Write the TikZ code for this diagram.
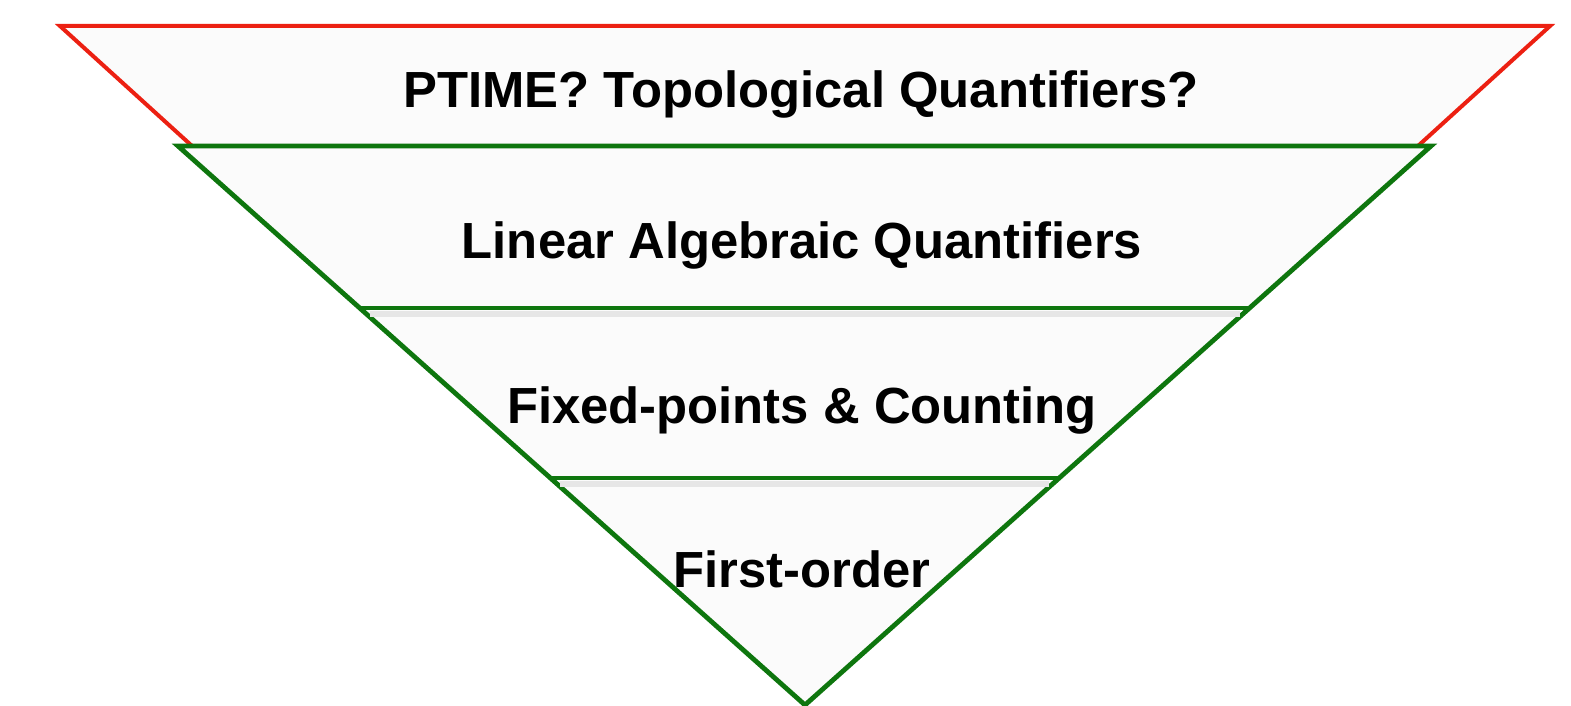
\documentclass[tikz,border=0pt]{standalone}
\usepackage{fontspec}
\setmainfont{Liberation Sans}
\usetikzlibrary{calc}
\definecolor{myred}{RGB}{236,32,18}
\definecolor{mygreen}{RGB}{14,118,14}
\definecolor{myfill}{RGB}{251,251,251}
\definecolor{myshadow}{RGB}{230,230,230}
\tikzset{
  layer/.style={font=\fontsize{25.4}{30}\selectfont\bfseries, text=black, anchor=base, inner sep=0pt},
  redtri/.style={draw=myred, fill=myfill, line width=2pt, line join=miter},
  greentri/.style={draw=mygreen, fill=myfill, line width=2.4pt, line join=miter},
  divider/.style={draw=mygreen, line width=2.4pt},
  dividershadow/.style={draw=myshadow, line width=3pt}
}

\begin{document}
\begin{tikzpicture}[x=0.5pt, y=-0.5pt]
  \useasboundingbox (0,0) rectangle (1571,706);

  % Outer (red) triangle
  \coordinate (rtl) at (60,26);
  \coordinate (rtr) at (1550,26);
  \coordinate (rapex) at (805,703);
  \draw[redtri] (rtl) -- (rtr) -- (rapex) -- cycle;

  % Inner (green) triangle
  \coordinate (gtl) at (178,146);
  \coordinate (gtr) at (1431,146);
  \coordinate (gapex) at (805,705);
  \draw[greentri] (gtl) -- (gtr) -- (gapex) -- cycle;

  % Dividers
  \coordinate (d1l) at ($(gtl)!0.2898!(gapex)$);
  \coordinate (d1r) at ($(gtr)!0.2898!(gapex)$);
  \coordinate (d2l) at ($(gtl)!0.5939!(gapex)$);
  \coordinate (d2r) at ($(gtr)!0.5939!(gapex)$);
  \draw[dividershadow] ($(d1l)+(10,6)$) -- ($(d1r)+(-10,6)$);
  \draw[dividershadow] ($(d2l)+(10,6)$) -- ($(d2r)+(-10,6)$);
  \draw[divider] (d1l) -- (d1r);
  \draw[divider] (d2l) -- (d2r);

  % Labels
  \node[layer] (ptime) at (801,108) {PTIME? Topological Quantifiers?};
  \node[layer] (linalg) at (802,258) {Linear Algebraic Quantifiers};
  \node[layer] (fixpt) at (802,423) {Fixed-points \& Counting};
  \node[layer] (fo) at (802,587) {First-order};
\end{tikzpicture}
\end{document}
